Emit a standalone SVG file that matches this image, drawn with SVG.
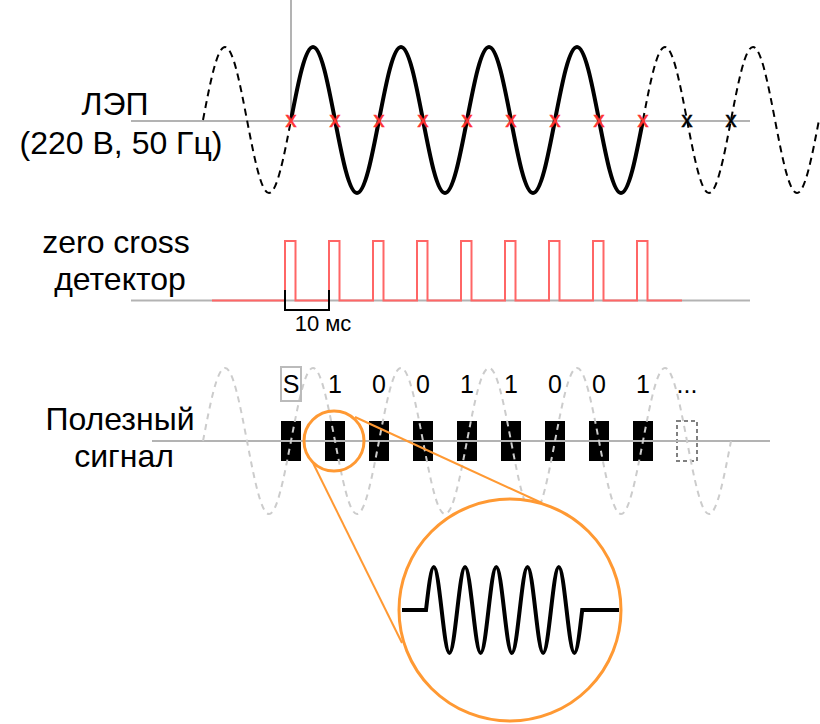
<svg xmlns="http://www.w3.org/2000/svg" width="820" height="724" viewBox="0 0 820 724">
<style>
text{font-family:"Liberation Sans",Arial,sans-serif;fill:#000}
.lbl{font-size:32px;text-anchor:middle}
.bit{font-size:25px;text-anchor:middle}
.xr{font-size:22px;text-anchor:middle;fill:#FF3333;stroke:#FF3333;stroke-width:0.6}
.xb{font-size:22px;text-anchor:middle;fill:#000;stroke:#000;stroke-width:0.6}
.axis{stroke:#B3B3B3;stroke-width:2;fill:none}
.orange{stroke:#FF9933;fill:none}
</style>
<rect width="820" height="724" fill="#fff"/>

<g id="labels">
<text class="lbl" x="115" y="115">ЛЭП</text>
<text class="lbl" x="121" y="154">(220 В, 50 Гц)</text>
<text class="lbl" x="116" y="253">zero cross</text>
<text class="lbl" x="120" y="290">детектор</text>
<text class="lbl" x="120" y="430">Полезный</text>
<text class="lbl" x="124" y="467">сигнал</text>
</g>

<g id="power-line">
<line class="axis" x1="291" y1="0" x2="291" y2="121"/>
<line class="axis" x1="131" y1="121" x2="750" y2="121"/>
<path d="M203 120c7.18,-37.4 14.04,-73 22,-73c7.960,0 14.82,35.6 22,73c7.18,37.4 14.04,73 22,73c7.96,0 14.82,-35.6 22,-73" fill="none" stroke="#000" stroke-width="2" stroke-dasharray="7 5"/>
<path d="M291 120c7.18,-37.4 14.04,-73 22,-73c7.96,0 14.82,35.6 22,73c7.18,37.4 14.04,73 22,73c7.96,0 14.82,-35.6 22,-73c7.18,-37.4 14.04,-73 22,-73c7.96,0 14.82,35.6 22,73c7.18,37.4 14.04,73 22,73c7.96,0 14.82,-35.6 22,-73c7.18,-37.4 14.04,-73 22,-73c7.96,0 14.82,35.6 22,73c7.18,37.4 14.04,73 22,73c7.96,0 14.82,-35.6 22,-73c7.18,-37.4 14.04,-73 22,-73c7.96,0 14.82,35.6 22,73c7.18,37.4 14.04,73 22,73c7.96,0 14.82,-35.6 22,-73" fill="none" stroke="#000" stroke-width="4"/>
<path d="M643 120c7.18,-37.4 14.04,-73 22,-73c7.96,0 14.82,35.6 22,73c7.18,37.4 14.04,73 22,73c7.96,0 14.82,-35.6 22,-73c7.18,-37.4 14.04,-73 22,-73c7.96,0 14.82,35.6 22,73c7.18,37.4 14.04,73 22,73c7.96,0 14.82,-35.6 22,-73" fill="none" stroke="#000" stroke-width="2" stroke-dasharray="7 5"/>
<text class="xr" x="291" y="127">x</text>
<text class="xr" x="335" y="127">x</text>
<text class="xr" x="379" y="127">x</text>
<text class="xr" x="423" y="127">x</text>
<text class="xr" x="467" y="127">x</text>
<text class="xr" x="511" y="127">x</text>
<text class="xr" x="555" y="127">x</text>
<text class="xr" x="599" y="127">x</text>
<text class="xr" x="643" y="127">x</text>
<text class="xb" x="687" y="127">x</text>
<text class="xb" x="731" y="127">x</text>
</g>

<g id="zero-cross">
<line class="axis" x1="131" y1="300.5" x2="750" y2="300.5"/>
<path d="M212 300.5H285V241H295.5V300.5H329V241H339.5V300.5H373V241H383.5V300.5H417V241H427.5V300.5H461V241H471.5V300.5H505V241H515.5V300.5H549V241H559.5V300.5H593V241H603.5V300.5H637V241H647.5V300.5H682" fill="none" stroke="#FF6666" stroke-width="2"/>
<path d="M285 290V310H329V290" fill="none" stroke="#000" stroke-width="2"/>
<text x="323" y="331" style="font-size:22px;text-anchor:middle">10 мс</text>
</g>

<g id="signal">
<rect x="281" y="421" width="20" height="40" fill="#000"/>
<rect x="325" y="421" width="20" height="40" fill="#000"/>
<rect x="369" y="421" width="20" height="40" fill="#000"/>
<rect x="413" y="421" width="20" height="40" fill="#000"/>
<rect x="457" y="421" width="20" height="40" fill="#000"/>
<rect x="501" y="421" width="20" height="40" fill="#000"/>
<rect x="545" y="421" width="20" height="40" fill="#000"/>
<rect x="589" y="421" width="20" height="40" fill="#000"/>
<rect x="633" y="421" width="20" height="40" fill="#000"/>
<rect x="677" y="421" width="20" height="40" fill="none" stroke="#808080" stroke-width="2" stroke-dasharray="4 3"/>
<line class="axis" x1="152" y1="441" x2="770" y2="441"/>
<path d="M203 441c7.18,-37.4 14.04,-73 22,-73c7.96,0 14.82,35.6 22,73c7.18,37.4 14.04,73 22,73c7.96,0 14.82,-35.6 22,-73c7.18,-37.4 14.04,-73 22,-73c7.96,0 14.82,35.6 22,73c7.18,37.4 14.04,73 22,73c7.96,0 14.82,-35.6 22,-73c7.18,-37.4 14.04,-73 22,-73c7.96,0 14.82,35.6 22,73c7.18,37.4 14.04,73 22,73c7.96,0 14.82,-35.6 22,-73c7.18,-37.4 14.04,-73 22,-73c7.96,0 14.82,35.6 22,73c7.18,37.4 14.04,73 22,73c7.96,0 14.82,-35.6 22,-73c7.18,-37.4 14.04,-73 22,-73c7.96,0 14.82,35.6 22,73c7.18,37.4 14.04,73 22,73c7.96,0 14.82,-35.6 22,-73c7.18,-37.4 14.04,-73 22,-73c7.96,0 14.82,35.6 22,73c7.18,37.4 14.04,73 22,73c7.96,0 14.82,-35.6 22,-73" fill="none" stroke="#CCCCCC" stroke-width="2" stroke-dasharray="6 5"/>
<rect x="281" y="367" width="20" height="34" fill="none" stroke="#BBBBBB" stroke-width="2"/>
<text class="bit" x="291" y="393">S</text>
<text class="bit" x="335" y="393">1</text>
<text class="bit" x="379" y="393">0</text>
<text class="bit" x="423" y="393">0</text>
<text class="bit" x="467" y="393">1</text>
<text class="bit" x="511" y="393">1</text>
<text class="bit" x="555" y="393">0</text>
<text class="bit" x="599" y="393">0</text>
<text class="bit" x="643" y="393">1</text>
<text class="bit" x="687" y="393">...</text>
</g>

<g id="connectors">
<line class="orange" x1="355" y1="417" x2="542" y2="503" stroke-width="2"/>
<line class="orange" x1="313" y1="463" x2="402" y2="643" stroke-width="2"/>
</g>

<g id="zoom-small">
<circle class="orange" cx="334" cy="441" r="30" stroke-width="3"/>
</g>

<g id="zoom-big">
<circle cx="510" cy="610" r="111" fill="#fff" stroke="#FF9933" stroke-width="3"/>
<path d="M402 610H426c2.55,-22.03 4.99,-43 7.81,-43c2.83,0 5.26,20.97 7.81,43c2.55,22.03 4.99,43 7.81,43c2.83,0 5.26,-20.97 7.81,-43c2.55,-22.03 4.99,-43 7.81,-43c2.83,0 5.26,20.97 7.81,43c2.55,22.03 4.99,43 7.81,43c2.83,0 5.26,-20.97 7.81,-43c2.55,-22.03 4.99,-43 7.81,-43c2.83,0 5.26,20.97 7.81,43c2.55,22.03 4.99,43 7.81,43c2.83,0 5.26,-20.97 7.81,-43c2.55,-22.03 4.99,-43 7.81,-43c2.83,0 5.26,20.97 7.81,43c2.55,22.03 4.99,43 7.81,43c2.83,0 5.26,-20.97 7.81,-43c2.55,-22.03 4.99,-43 7.81,-43c2.83,0 5.26,20.97 7.81,43c2.55,22.03 4.99,43 7.81,43c2.83,0 5.26,-20.97 7.81,-43H619" fill="none" stroke="#000" stroke-width="4"/>
</g>
</svg>
